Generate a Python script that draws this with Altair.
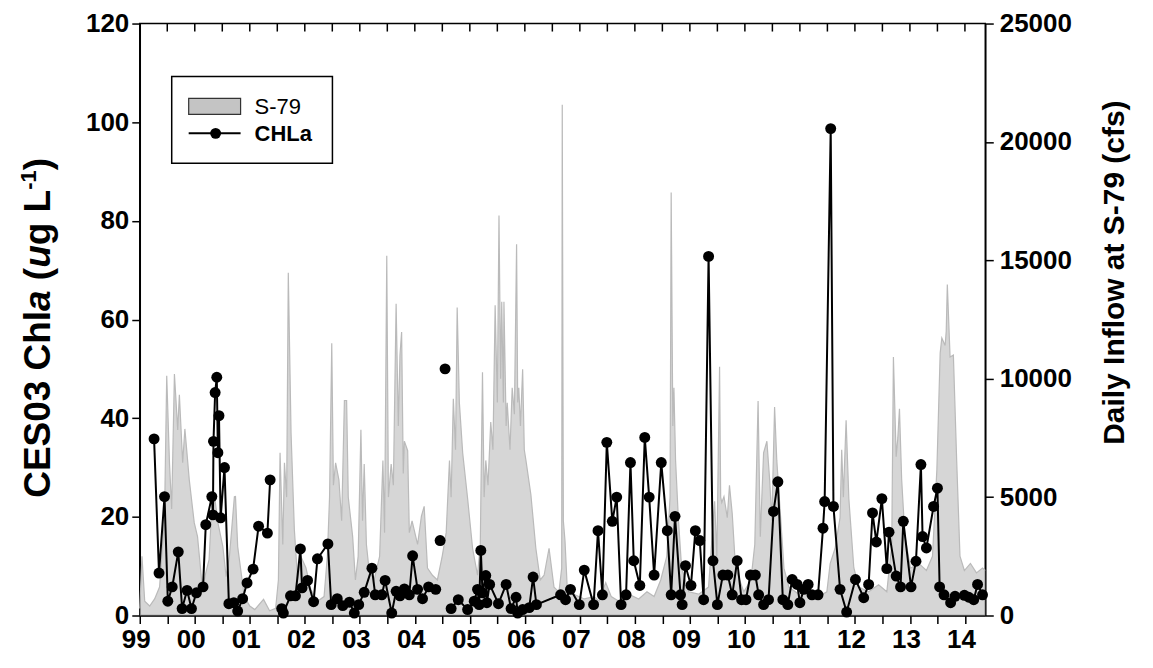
import altair as alt
import pandas as pd

# ---------------- data ----------------
chl_year = [1999.26, 1999.35, 1999.45, 1999.51, 1999.59, 1999.70, 1999.77, 1999.86, 1999.94,
            2000.03, 2000.15, 2000.20, 2000.31, 2000.33, 2000.34, 2000.37, 2000.40, 2000.42,
            2000.44, 2000.47, 2000.54, 2000.62, 2000.71, 2000.78, 2000.87, 2000.95, 2001.06,
            2001.16, 2001.32, 2001.37,
            2001.58, 2001.61, 2001.74, 2001.83, 2001.92, 2001.95, 2002.05, 2002.16, 2002.23,
            2002.42, 2002.48, 2002.59, 2002.69, 2002.81, 2002.90, 2002.98, 2003.08, 2003.22,
            2003.28, 2003.40, 2003.46, 2003.58, 2003.66, 2003.73, 2003.81, 2003.90, 2003.96,
            2004.05, 2004.14, 2004.25, 2004.38,
            2004.46,
            2004.55,
            2004.66, 2004.79, 2004.96, 2005.08, 2005.14, 2005.17, 2005.20, 2005.23, 2005.29,
            2005.31, 2005.36, 2005.52, 2005.66, 2005.75, 2005.84, 2005.87, 2005.96, 2006.08,
            2006.15, 2006.21, 2006.65, 2006.74, 2006.83, 2006.99, 2007.08, 2007.25, 2007.33,
            2007.41, 2007.49, 2007.59, 2007.67, 2007.75, 2007.84, 2007.92, 2007.98, 2008.09,
            2008.18, 2008.26, 2008.35, 2008.48, 2008.59, 2008.66, 2008.73, 2008.83, 2008.86,
            2008.92, 2009.02, 2009.10, 2009.18, 2009.25, 2009.34, 2009.42, 2009.50, 2009.60,
            2009.69, 2009.77, 2009.86, 2009.94, 2010.02, 2010.10, 2010.19, 2010.25, 2010.34,
            2010.43, 2010.52, 2010.60, 2010.69, 2010.78, 2010.86, 2010.95, 2011.00, 2011.07,
            2011.15, 2011.22, 2011.33, 2011.42, 2011.45, 2011.56, 2011.61, 2011.73, 2011.85,
            2012.01, 2012.16, 2012.25, 2012.32, 2012.39, 2012.49, 2012.58, 2012.62, 2012.75,
            2012.83, 2012.88, 2013.02, 2013.11, 2013.20, 2013.23, 2013.30, 2013.43, 2013.50,
            2013.54, 2013.62, 2013.74, 2013.82, 2013.99, 2014.07, 2014.16, 2014.23, 2014.32]
chl_value = [35.8, 8.6, 24.1, 2.9, 5.8, 12.9, 1.4, 5.1, 1.4,
             4.6, 5.8, 18.4, 24.1, 20.4, 35.3, 45.2, 48.3, 33.0,
             40.5, 19.8, 30.0, 2.4, 2.6, 0.9, 3.4, 6.6, 9.4,
             18.1, 16.7, 27.5,
             1.4, 0.5, 4.0, 4.0, 13.5, 5.6, 7.1, 2.8, 11.5,
             14.5, 2.2, 3.4, 2.0, 2.7, 0.5, 2.2, 4.7, 9.6,
             4.2, 4.2, 7.1, 0.5, 4.9, 4.0, 5.4, 4.2, 12.1,
             5.3, 3.4, 5.8, 5.3,
             15.2,
             50.0,
             1.4, 3.2, 1.2, 2.9, 5.3, 2.2, 13.2, 4.6, 8.1,
             2.6, 6.3, 2.4, 6.3, 1.4, 3.7, 0.5, 1.2, 1.6,
             7.8, 2.2, 4.2, 3.2, 5.3, 2.2, 9.2, 2.2, 17.2,
             4.2, 35.1, 19.1, 24.0, 2.2, 4.2, 31.0, 11.1, 6.1,
             36.1, 24.0, 8.2, 31.0, 17.2, 4.2, 20.1, 4.2, 2.2,
             10.1, 6.1, 17.2, 15.2, 3.2, 72.8, 11.1, 2.2, 8.2,
             8.2, 4.2, 11.1, 3.2, 3.2, 8.2, 8.2, 4.2, 2.2,
             3.2, 21.1, 27.1, 3.2, 2.2, 7.3, 6.3, 2.6, 5.3,
             6.3, 4.2, 4.2, 17.7, 23.1, 98.7, 22.1, 5.3, 0.7,
             7.3, 3.6, 6.3, 20.8, 14.9, 23.7, 9.5, 16.9, 8.0,
             5.8, 19.1, 5.8, 11.0, 30.6, 16.0, 13.7, 22.1, 25.8,
             5.8, 4.2, 2.6, 3.9, 4.1, 3.7, 3.2, 6.3, 4.2]
# run of connected samples each point belongs to (the line breaks between runs)
chl_run = [1] * 30 + [2] * 31 + [3] + [4] + [5] * 108

flow_year = [1999.00, 1999.04, 1999.09, 1999.18, 1999.27, 1999.36, 1999.45, 1999.49, 1999.54,
             1999.58, 1999.63, 1999.69, 1999.72, 1999.78, 1999.82, 1999.90, 1999.99, 2000.05,
             2000.14, 2000.20, 2000.26, 2000.30, 2000.34, 2000.36, 2000.42, 2000.51, 2000.57,
             2000.63, 2000.72, 2000.74, 2000.78, 2000.90, 2001.00, 2001.09, 2001.25, 2001.36,
             2001.47, 2001.52, 2001.55, 2001.60, 2001.63, 2001.67, 2001.70, 2001.75, 2001.81,
             2001.87, 2001.93, 2002.02, 2002.11, 2002.23, 2002.35, 2002.41, 2002.45, 2002.49,
             2002.52, 2002.56, 2002.62, 2002.67, 2002.72, 2002.76, 2002.79, 2002.83, 2002.87,
             2002.92, 2002.97, 2003.02, 2003.05, 2003.08, 2003.12, 2003.17, 2003.26, 2003.36,
             2003.42, 2003.45, 2003.49, 2003.52, 2003.57, 2003.61, 2003.66, 2003.70, 2003.73,
             2003.76, 2003.79, 2003.81, 2003.87, 2003.90, 2003.95, 2004.05, 2004.12, 2004.17,
             2004.23, 2004.32, 2004.41, 2004.50, 2004.57, 2004.63, 2004.66, 2004.70, 2004.74,
             2004.77, 2004.81, 2004.87, 2004.96, 2005.05, 2005.14, 2005.19, 2005.23, 2005.26,
             2005.29, 2005.33, 2005.38, 2005.42, 2005.46, 2005.50, 2005.53, 2005.56, 2005.58,
             2005.61, 2005.62, 2005.66, 2005.68, 2005.73, 2005.77, 2005.81, 2005.85, 2005.87,
             2005.89, 2005.92, 2005.96, 2005.99, 2006.02, 2006.11, 2006.20, 2006.28, 2006.35,
             2006.44, 2006.53, 2006.62, 2006.67, 2006.68, 2006.70, 2006.73, 2006.77, 2006.89,
             2007.08, 2007.26, 2007.35, 2007.47, 2007.57, 2007.71, 2007.89, 2008.07, 2008.22,
             2008.35, 2008.47, 2008.58, 2008.64, 2008.66, 2008.69, 2008.71, 2008.74, 2008.79,
             2008.85, 2008.98, 2009.16, 2009.34, 2009.45, 2009.49, 2009.54, 2009.56, 2009.58,
             2009.62, 2009.68, 2009.72, 2009.77, 2009.83, 2009.98, 2010.11, 2010.18, 2010.24,
             2010.28, 2010.34, 2010.40, 2010.45, 2010.49, 2010.54, 2010.58, 2010.65, 2010.71,
             2010.80, 2010.98, 2011.16, 2011.34, 2011.49, 2011.55, 2011.64, 2011.73, 2011.76,
             2011.79, 2011.84, 2011.89, 2011.98, 2012.07, 2012.25, 2012.43, 2012.58, 2012.67,
             2012.70, 2012.75, 2012.78, 2012.81, 2012.85, 2012.91, 2013.01, 2013.16, 2013.30,
             2013.41, 2013.49, 2013.55, 2013.58, 2013.64, 2013.66, 2013.68, 2013.73, 2013.79,
             2013.85, 2013.91, 2013.99, 2014.10, 2014.21, 2014.32, 2014.37]
flow_cfs = [300, 2500, 600, 400, 700, 1200, 4130, 10120, 6450,
            4500, 10200, 7840, 9320, 6450, 7880, 5730, 3920, 3330,
            1100, 1800, 2360, 4200, 4170, 5030, 3920, 2910, 1640,
            2500, 5020, 5030, 2910, 800, 400, 250, 680, 200,
            300, 1500, 6870, 3000, 6450, 5000, 14475, 7710, 3630,
            1500, 2490, 2020, 1100, 600, 800, 2500, 5000, 11500,
            5500, 6450, 5730, 4000, 9080, 9080, 5000, 4170, 3330,
            1500, 2500, 7840, 4000, 6400, 3000, 1900, 1500, 2500,
            6550, 3500, 15190, 5000, 6400, 5500, 13170, 8000, 11000,
            11970, 6000, 7360, 6960, 3500, 4000, 3000, 4200, 4610,
            2000, 1700, 1500, 2530, 3500, 6550, 5000, 9150, 7000,
            13010, 8980, 6870, 4930, 2840, 1700, 3000, 10270, 5000,
            6550, 5500, 8170, 7000, 13100, 9000, 16890, 10000, 13250,
            9000, 13250, 8000, 8980, 7000, 9620, 8500, 15680, 9000,
            9620, 8000, 10400, 7000, 6550, 5100, 2840, 1500, 1700,
            2840, 1200, 1000, 2000, 21570, 4000, 3160, 1200, 900,
            700, 800, 600, 1390, 800, 600, 900, 700, 1000,
            800, 1500, 2500, 5000, 17860, 8000, 9620, 6550, 4130,
            2000, 1000, 900, 1200, 4820, 2500, 10510, 5000, 4770,
            5020, 4130, 5500, 4300, 2000, 1000, 1500, 3000, 9060,
            3330, 6870, 7360, 5740, 4000, 8810, 6550, 4130, 2000,
            1200, 900, 1100, 800, 1000, 2190, 2840, 4130, 7000,
            5000, 8250, 4930, 2020, 1200, 1000, 1300, 1000, 3000,
            10920, 6710, 7500, 8730, 5740, 3330, 2000, 2200, 1900,
            2500, 6160, 11080, 11720, 11400, 12000, 13980, 10920, 11000,
            6550, 2510, 1900, 2200, 1800, 2000, 1900]

chl_ticks = [0, 20, 40, 60, 80, 100, 120]
flow_ticks = [0, 5000, 10000, 15000, 20000, 25000]
year_ticks = [1999 + 0.5 * i for i in range(31)]
x_domain = [1999.0, 2014.37]

legend_items = ["S-79", "CHLa"]
right_title = "Daily Inflow at S-79 (cfs)"
# left title pieces: (text, italic, superscript); a blank piece only advances
left_title = [("CES03 Chl", False, False), ("a", True, False), (" ", False, False),
              ("(", False, False), ("u", True, False), ("g\u00a0L", False, False),
              ("-1", False, True), (")", False, False)]

# ---------------- chart ----------------
FONT = "Liberation Sans"
GREY = "#c4c4c4"
chl_df = pd.DataFrame({"year": chl_year, "chl": chl_value, "run": chl_run})
flow_df = pd.DataFrame({"year": flow_year, "flow": flow_cfs})
tick_df = pd.DataFrame({"year": year_ticks})
one = pd.DataFrame({"k": [0]})

x_scale = alt.Scale(domain=x_domain, nice=False, zero=False)
x_axis = alt.Axis(values=year_ticks, title=None, grid=False,
                  labelExpr="datum.value % 1 == 0 ? slice(toString(datum.value), 2) : ''",
                  labelOverlap=False, labelFlush=False, labelFontSize=26, labelFontWeight="bold",
                  labelPadding=3, labelOffset=-4, tickSize=8)
X = alt.X("year:Q", scale=x_scale, axis=x_axis)

area = alt.Chart(flow_df).mark_area(color=GREY, line={"color": "#bababa", "strokeWidth": 1.2},
                                    interpolate="linear").encode(
    x=X,
    y=alt.Y("flow:Q", scale=alt.Scale(domain=[0, 25000], nice=False),
            axis=alt.Axis(orient="right", values=flow_ticks, format="d", title=right_title,
                          titleAngle=270, titlePadding=58, titleFontSize=30, titleY=249,
                          labelFontSize=26, labelFontWeight="bold",
                          labelPadding=6, tickSize=8, grid=False))
)

y_chl = alt.Y("chl:Q", scale=alt.Scale(domain=[0, 120], nice=False),
              axis=alt.Axis(orient="left", values=chl_ticks, title=None,
                            labelFontSize=26, labelFontWeight="bold",
                            labelPadding=3, tickSize=8, grid=False))
chl_line = alt.Chart(chl_df).mark_line(color="black", strokeWidth=2).encode(
    x=X, y=y_chl, detail="run:N")
chl_pts = alt.Chart(chl_df).mark_circle(color="black", opacity=1, size=120).encode(x=X, y=y_chl)
chl_layer = alt.layer(chl_line, chl_pts)

top_ticks = alt.Chart(tick_df).mark_rule(color="black", strokeWidth=1.5).encode(
    x=X, y=alt.value(0), y2=alt.value(8))

# left axis title built from pieces so that "a" and "u" can be italic and "-1" raised
# (Liberation Sans Bold advance widths, em units)
adv = {"C": .722, "E": .667, "S": .667, "0": .556, "3": .556, " ": .278, "\u00a0": .278,
       "h": .611, "l": .278, "a": .556, "(": .333, "u": .611, "g": .611, "L": .611,
       "-": .333, "1": .556, ")": .333}
TS, SS = 37, 22
title_layers = []
pos = 475.0  # start (bottom) of the rotated title, in plot pixels
for txt, ital, sup in left_title:
    fs = SS if sup else TS
    if txt.strip():
        title_layers.append(
            alt.Chart(one).mark_text(text=txt, angle=270, align="left", baseline="alphabetic",
                                     fontSize=fs, font=FONT, fontWeight="bold",
                                     fontStyle="italic" if ital else "normal",
                                     color="black").encode(
                x=alt.value(-104 if sup else -90), y=alt.value(pos)))
    pos -= sum(adv[c] for c in txt) * fs

box = alt.Chart(one).mark_rect(fill="white", stroke="black", strokeWidth=1.5).encode(
    x=alt.value(32), x2=alt.value(193), y=alt.value(53), y2=alt.value(140))
swatch = alt.Chart(one).mark_rect(fill=GREY, stroke="#333333", strokeWidth=1.2).encode(
    x=alt.value(49), x2=alt.value(101), y=alt.value(75), y2=alt.value(91))
leg_line = alt.Chart(one).mark_rule(color="black", strokeWidth=2).encode(
    x=alt.value(49), x2=alt.value(101), y=alt.value(110))
leg_dot = alt.Chart(one).mark_circle(color="black", opacity=1, size=120).encode(
    x=alt.value(76), y=alt.value(110))
leg_t1 = alt.Chart(one).mark_text(text=legend_items[0], align="left", baseline="middle",
                                  fontSize=22, font=FONT, color="black").encode(
    x=alt.value(115), y=alt.value(84))
leg_t2 = alt.Chart(one).mark_text(text=legend_items[1], align="left", baseline="middle",
                                  fontSize=22, font=FONT, fontWeight="bold", color="black").encode(
    x=alt.value(115), y=alt.value(111))

chart = alt.layer(area, chl_layer, top_ticks, box, swatch, leg_line, leg_dot, leg_t1, leg_t2,
                  *title_layers
                  ).resolve_scale(y="independent").properties(
    width=847, height=593,
    padding={"left": 132, "top": 15, "right": 160, "bottom": 45},
    autosize=alt.AutoSizeParams(type="none"),
).configure_view(stroke="black", strokeWidth=1.5).configure_axis(
    labelFont=FONT, titleFont=FONT, titleFontSize=30, titleFontWeight="bold",
    labelColor="black", titleColor="black", domainColor="black", tickColor="black",
    domainWidth=1.5, tickWidth=1.5
)

chart.save("out.html", embed_options={"renderer": "svg", "actions": False})
